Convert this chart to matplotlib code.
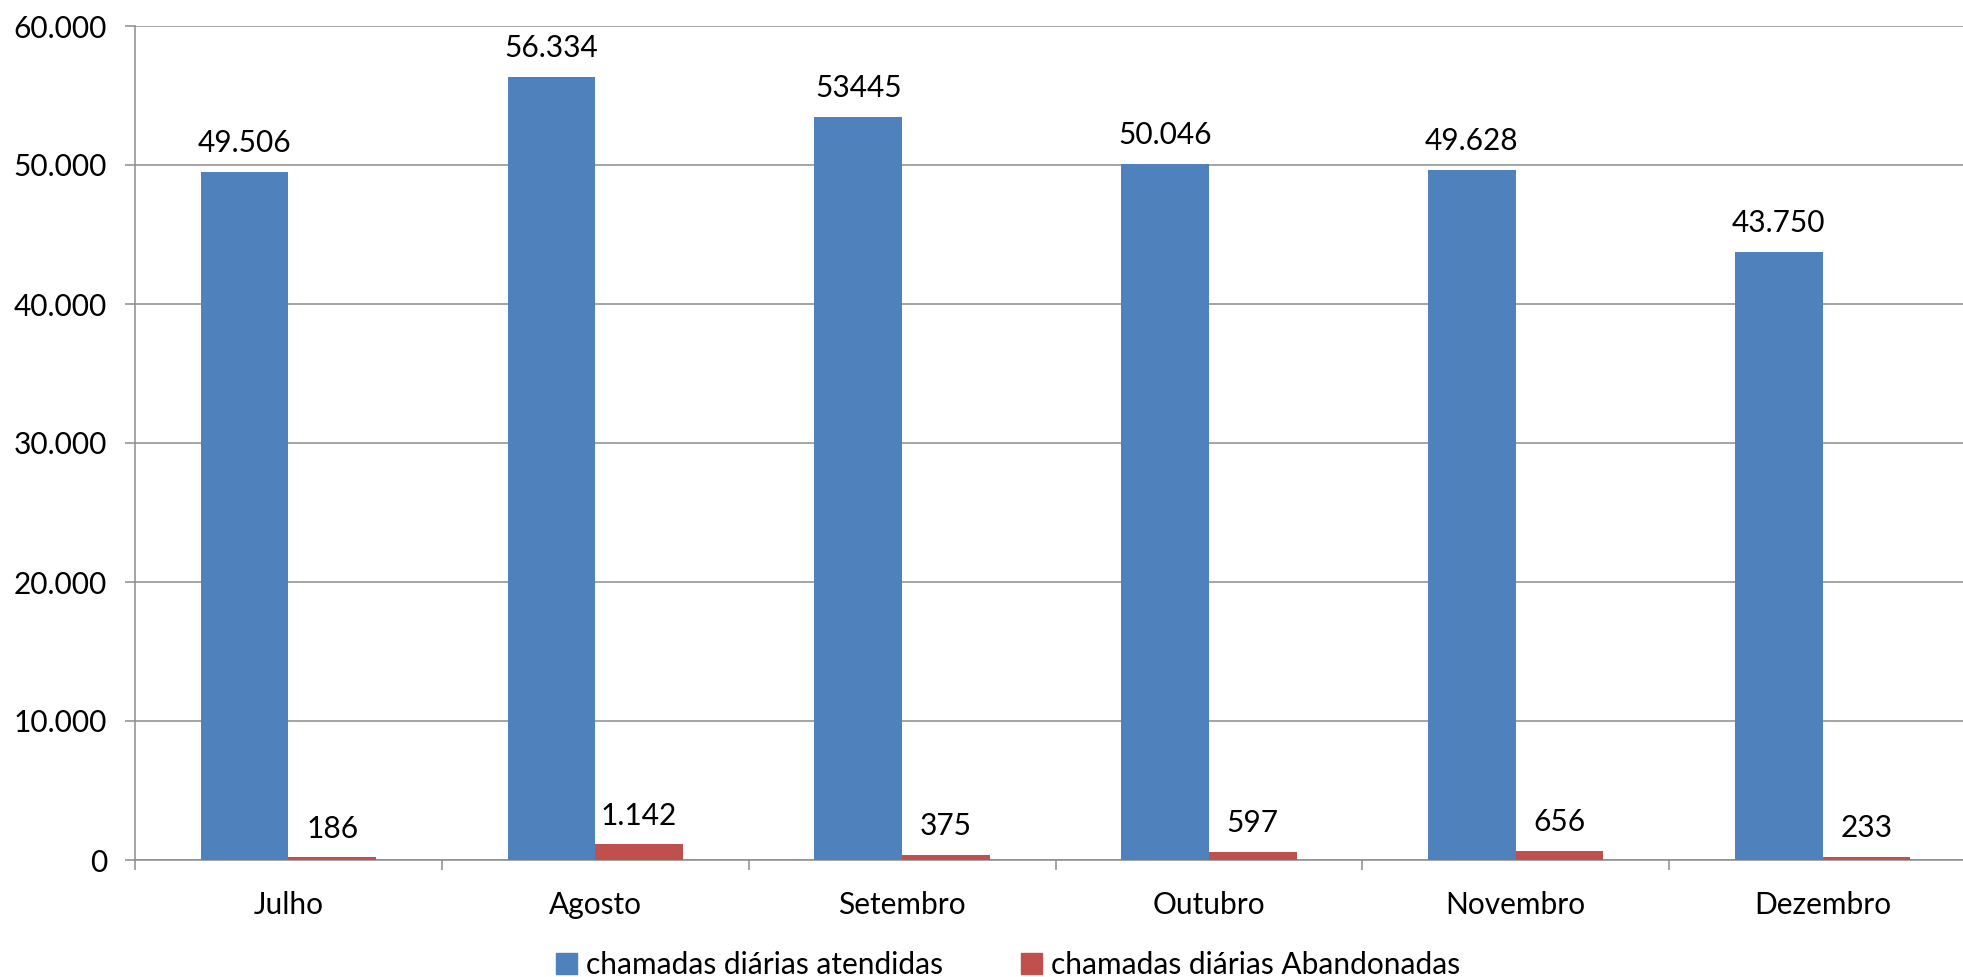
import matplotlib
matplotlib.use("Agg")
import matplotlib.pyplot as plt
import numpy as np
from matplotlib.patches import Patch

plt.rcParams['font.family'] = ['Lato', 'DejaVu Sans']

months = ["Julho", "Agosto", "Setembro", "Outubro", "Novembro", "Dezembro"]
atendidas = [49506, 56334, 53445, 50046, 49628, 43750]
atendidas_labels = ["49.506", "56.334", "53445", "50.046", "49.628", "43.750"]
abandonadas = [186, 1142, 375, 597, 656, 233]
abandonadas_labels = ["186", "1.142", "375", "597", "656", "233"]
y_ticks = [0, 10000, 20000, 30000, 40000, 50000, 60000]
y_tick_labels = ["0", "10.000", "20.000", "30.000", "40.000", "50.000", "60.000"]

BLUE = "#4F81BD"
RED = "#C0504D"
GRID = "#8C8C8C"
FS = 21.5

W, H = 1963, 977
fig = plt.figure(figsize=(W / 100, H / 100), dpi=100)
ax = fig.add_axes([135 / W, (H - 860) / H, (1976 - 135) / W, (860 - 26) / H])

x = np.arange(len(months))
bw = 1 / 3.5
bars_a = ax.bar(x - bw / 2, atendidas, width=bw, color=BLUE, zorder=3)
bars_b = ax.bar(x + bw / 2, abandonadas, width=bw, color=RED, zorder=3)

for rect, lab in zip(bars_a, atendidas_labels):
    ax.annotate(lab, (rect.get_x() + rect.get_width() / 2, rect.get_height()),
                xytext=(0, 21), textcoords="offset points",
                ha="center", va="center", fontsize=FS)
for rect, lab in zip(bars_b, abandonadas_labels):
    ax.annotate(lab, (rect.get_x() + rect.get_width() / 2, rect.get_height()),
                xytext=(0, 20.5), textcoords="offset points",
                ha="center", va="center", fontsize=FS)

ax.set_xlim(-0.5, len(months) - 0.5)
ax.set_ylim(0, 60000)
ax.set_yticks(y_ticks)
ax.set_yticklabels(y_tick_labels, fontsize=FS)
ax.set_xticks(x)
ax.set_xticklabels(months, fontsize=FS)
ax.set_xticks(np.arange(-0.5, len(months), 1.0), minor=True)

ax.tick_params(axis="x", which="major", length=0, pad=22)
ax.tick_params(axis="x", which="minor", length=7.2, width=1.1, color=GRID)
ax.tick_params(axis="y", length=7.2, width=1.1, color=GRID, pad=13)

ax.yaxis.grid(True, color=GRID, linewidth=1.1, zorder=0)
ax.set_axisbelow(True)
for side in ("top", "right"):
    ax.spines[side].set_visible(False)
for side in ("left", "bottom"):
    ax.spines[side].set_color(GRID)
    ax.spines[side].set_linewidth(1.1)

handles = [Patch(color=BLUE), Patch(color=RED)]
fig.legend(handles, ["chamadas diárias atendidas", "chamadas diárias Abandonadas"],
           loc="center", bbox_to_anchor=(1008 / W, 1 - 965 / H), ncol=2,
           frameon=False, fontsize=FS, handlelength=0.7, handleheight=0.7,
           handletextpad=0.3, columnspacing=2.6)

fig.savefig("out.png", dpi=100)
